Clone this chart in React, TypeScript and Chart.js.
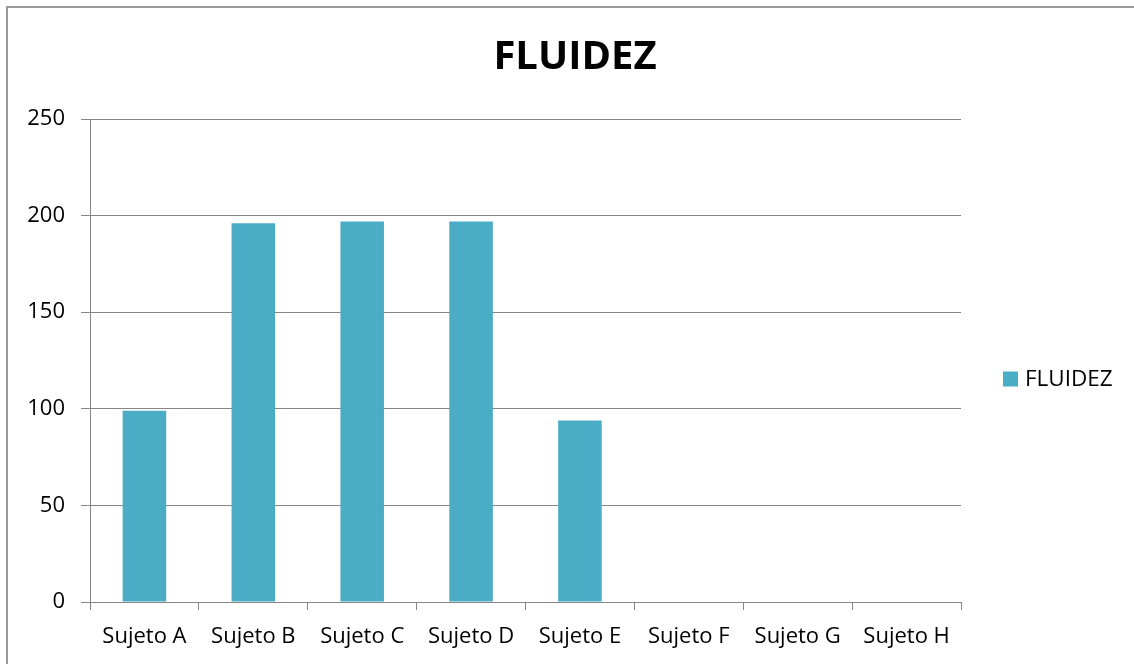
import React, { useEffect, useRef } from "react";
import { Chart, registerables } from "chart.js";

Chart.register(...registerables);

const categories = ["Sujeto A", "Sujeto B", "Sujeto C", "Sujeto D", "Sujeto E", "Sujeto F", "Sujeto G", "Sujeto H"];
const fluidez = [99, 196, 197, 197, 94, null, null, null];
const seriesName = "FLUIDEZ";
const chartTitle = "FLUIDEZ";
const yMin = 0;
const yMax = 250;
const yStep = 50;

const BAR_COLOR = "#4BACC6";
const GRID_COLOR = "#868686";
const FONT = "'Open Sans', sans-serif";

const legendPlugin = {
  id: "customLegend",
  afterDraw(chart: any) {
    const { ctx, chartArea } = chart;
    const ds = chart.data.datasets[0];
    const x = chartArea.right + 42;
    const cy = 379;
    ctx.save();
    ctx.fillStyle = ds.backgroundColor;
    ctx.fillRect(x, cy - 7.5, 15, 15);
    ctx.fillStyle = "#000";
    ctx.font = `22.5px ${FONT}`;
    ctx.textBaseline = "middle";
    ctx.textAlign = "left";
    ctx.fillText(ds.label, x + 22, cy + 1);
    ctx.restore();
  },
};

export default function App() {
  const ref = useRef<HTMLCanvasElement | null>(null);

  useEffect(() => {
    if (!ref.current) return;
    const chart = new Chart(ref.current, {
      type: "bar",
      data: {
        labels: categories,
        datasets: [
          {
            label: seriesName,
            data: fluidez as any,
            backgroundColor: BAR_COLOR,
            borderWidth: 0,
            barPercentage: 0.4,
            categoryPercentage: 1,
            yAxisID: "y",
          },
        ],
      },
      options: {
        responsive: false,
        animation: false,
        layout: { padding: { left: 16, right: 0, top: 0, bottom: 0 } },
        plugins: {
          legend: { display: false },
          tooltip: { enabled: false },
          title: {
            display: true,
            text: chartTitle,
            color: "#000",
            font: { family: FONT, size: 40, weight: "bold", lineHeight: 1.2 },
            padding: { top: 34, bottom: 37 },
          },
        },
        scales: {
          x: {
            grid: {
              display: true,
              drawOnChartArea: false,
              drawTicks: true,
              tickLength: 8,
              color: GRID_COLOR,
              offset: true,
            },
            border: { display: true, color: GRID_COLOR, width: 1 },
            ticks: {
              color: "#000",
              font: { family: FONT, size: 22 },
              padding: 14,
              maxRotation: 0,
              autoSkip: false,
            },
            afterFit: (s: any) => {
              s.height = 62;
            },
          },
          y: {
            min: yMin,
            max: yMax,
            grid: {
              color: GRID_COLOR,
              lineWidth: 1,
              drawTicks: true,
              tickLength: 9,
            },
            border: { display: true, color: GRID_COLOR, width: 1 },
            ticks: {
              stepSize: yStep,
              color: "#000",
              font: { family: FONT, size: 22 },
              padding: 16,
            },
            afterFit: (s: any) => {
              s.width = 74;
            },
          },
          legendSpace: {
            type: "linear",
            position: "right",
            display: true,
            grid: { display: false, drawTicks: false },
            border: { display: false },
            ticks: { display: false },
            afterFit: (s: any) => {
              s.width = 173;
            },
          },
        },
      },
      plugins: [legendPlugin],
    });
    return () => chart.destroy();
  }, []);

  return (
    <div style={{ position: "fixed", left: 0, top: 0, width: 1134, height: 664, background: "#fff", overflow: "hidden" }}>
      <div
        style={{
          position: "absolute",
          left: 6,
          top: 6,
          width: 1200,
          height: 800,
          borderLeft: "2px solid #999",
          borderTop: "2px solid #999",
        }}
      />
      <canvas ref={ref} width={1134} height={664} style={{ position: "absolute", left: 0, top: 0 }} />
    </div>
  );
}
